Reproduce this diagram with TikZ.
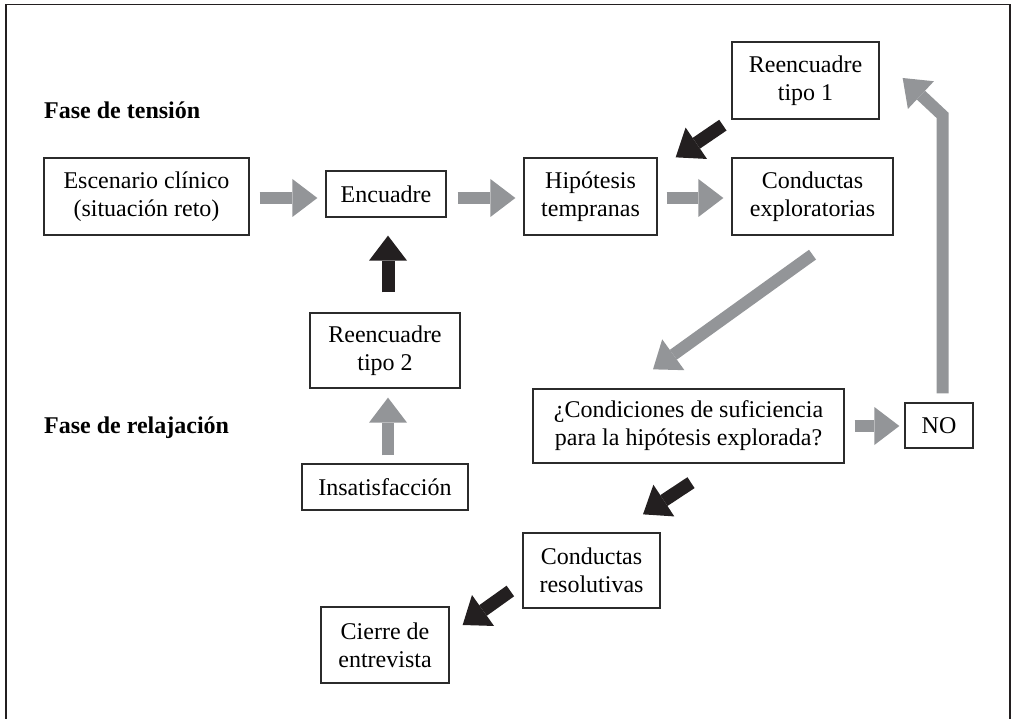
\documentclass[tikz,border=0pt]{standalone}
\usepackage{fontspec}
\setmainfont{Liberation Serif}
\usetikzlibrary{arrows.meta,calc}
\definecolor{arrgray}{HTML}{939598}
\definecolor{inkblack}{HTML}{231F20}
\definecolor{boxline}{HTML}{2B2B2B}
\begin{document}
\begin{tikzpicture}[x=1pt,y=-1pt,
  box/.style={draw=boxline,line width=1.3pt,inner sep=0pt,align=center,
    font=\fontsize{24}{28}\selectfont},
  phase/.style={inner sep=0pt,anchor=base west,font=\fontsize{24}{28}\selectfont\bfseries},
  fatarrow/.style={line width=12pt,line join=miter,
    -{Triangle[width=38pt,length=25pt,line width=0pt]}},
  garrow/.style={fatarrow,draw=arrgray},
  barrow/.style={fatarrow,draw=inkblack,line width=13pt}]
\useasboundingbox (0,0) rectangle (1011,719);

% open frame (no bottom edge)
\draw[inkblack,line width=1.6pt] (6,719) -- (6,4.5) -- (1010,4.5) -- (1010,719);

% phase labels
\node[phase] (ften) at (44,119) {Fase de tensión};
\node[phase] (frel) at (44,433) {Fase de relajación};

% boxes
\node[box,minimum width=205pt,minimum height=77pt] (esc) at (146.5,196.5) {Escenario clínico\\(situación reto)};
\node[box,minimum width=120pt,minimum height=46pt] (enc) at (386,194) {Encuadre};
\node[box,minimum width=133pt,minimum height=77pt] (hip) at (590.5,196.5) {Hipótesis\\tempranas};
\node[box,minimum width=161pt,minimum height=77pt] (cex) at (812.5,196.5) {Conductas\\exploratorias};
\node[box,minimum width=147pt,minimum height=77pt] (re1) at (805.5,80.5) {Reencuadre\\tipo 1};
\node[box,minimum width=150pt,minimum height=75pt] (re2) at (385,350.5) {Reencuadre\\tipo 2};
\node[box,minimum width=166pt,minimum height=46pt] (ins) at (385,487) {Insatisfacción};
\node[box,minimum width=311pt,minimum height=74pt] (cond) at (688.5,426) {¿Condiciones de suficiencia\\para la hipótesis explorada?};
\node[box,minimum width=68pt,minimum height=45pt] (no) at (939,425.5) {NO};
\node[box,minimum width=137pt,minimum height=75pt] (cres) at (591.5,570.5) {Conductas\\resolutivas};
\node[box,minimum width=128pt,minimum height=76pt] (cie) at (385,645) {Cierre de\\entrevista};

% main row
\draw[garrow] ($(esc.east)+(10,1.5)$) -- ($(enc.west)+(-8,4)$);
\draw[garrow] ($(enc.east)+(11,4)$) -- ($(hip.west)+(-8,1.5)$);
\draw[garrow] ($(hip.east)+(9,1.5)$) -- ($(cex.west)+(-8,1.5)$);

% reframing type 1 back to early hypotheses
\draw[barrow] ($(re1.south west)+(-8.5,5.5)$) -- ($(hip.north east)+(18,0)$);

% exploration to sufficiency check
\draw[garrow] ($(cex.south)+(0,19)$) -- ($(cond.north)+(-35.5,-19)$);
\draw[garrow] ($(cond.east)+(10,0)$) -- ($(no.west)+(-5,0.5)$);

% NO loops up to reframing type 1
\coordinate (bend) at ($(no.north)+(3.5,-287)$);
\draw[garrow] ($(no.north)+(3.5,-9)$) -- (bend) -- ($(re1.east)+(23,-2.5)$);

% resolution path
\draw[barrow] ($(cond.south)+(2.5,19)$) -- ($(cres.north)+(51.5,-18)$);
\draw[barrow] ($(cres.west)+(-12,20.5)$) -- ($(cie.east)+(13,-20)$);

% dissatisfaction leads to reframing type 2, back to framing
\draw[garrow] ($(ins.north)+(3,-8)$) -- ($(re2.south)+(3,9)$);
\draw[barrow] ($(re2.north)+(3,-20)$) -- ($(enc.south)+(2,18)$);
\end{tikzpicture}
\end{document}
